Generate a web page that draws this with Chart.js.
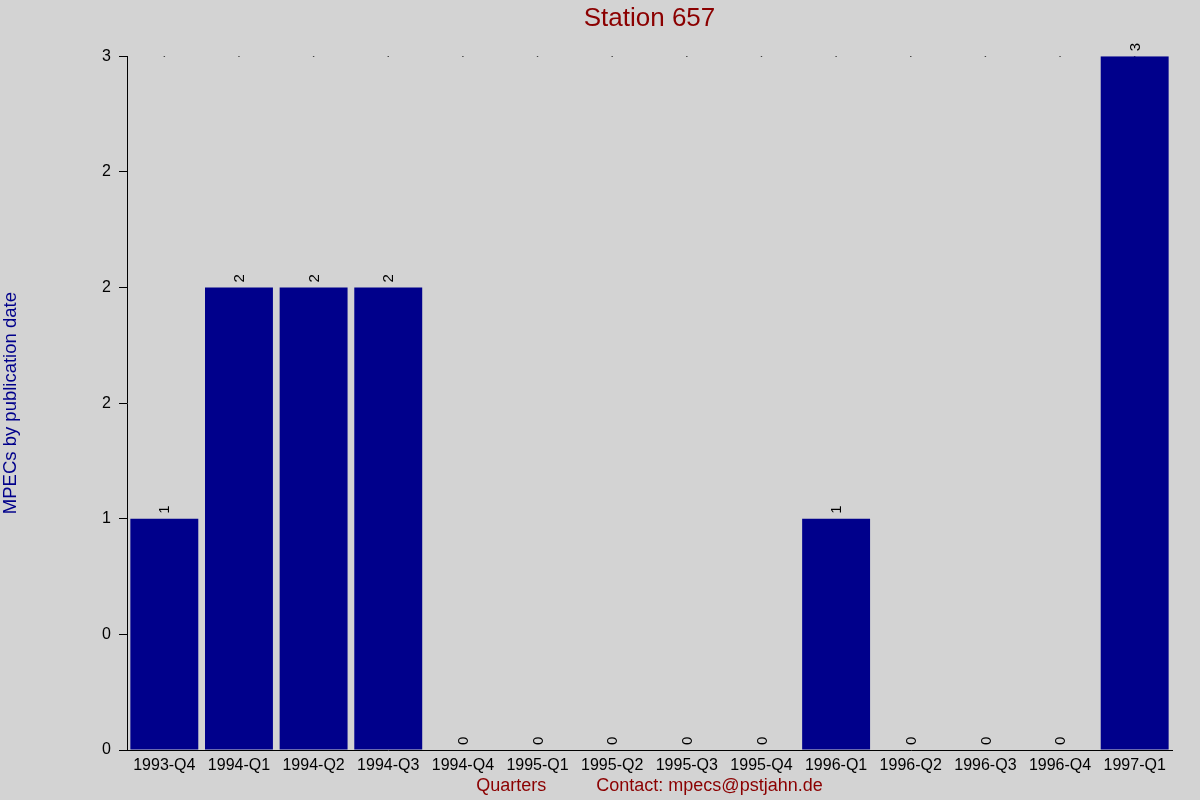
<!DOCTYPE html>
<html>
<head>
<meta charset="utf-8">
<script src="https://cdn.jsdelivr.net/npm/chart.js@4/dist/chart.umd.min.js"></script>
<style>
html,body{margin:0;padding:0;background:#d3d3d3;}
#wrap{width:1200px;height:800px;}
</style>
</head>
<body>
<div id="wrap"><canvas id="graph" width="1200" height="800"></canvas></div>
<script>

// quarters and MPEC counts
let quarters=["1993-Q4","1994-Q1","1994-Q2","1994-Q3","1994-Q4","1995-Q1","1995-Q2","1995-Q3","1995-Q4","1996-Q1","1996-Q2","1996-Q3","1996-Q4","1997-Q1"];
let mpecs=[1,2,2,2,0,0,0,0,0,1,0,0,0,3];
let topDots=[3,3,3,3,3,3,3,3,3,3,3,3,3,3];
let yTickLabels=["0","0","1","2","2","2","3"];

let bg={
id:"bg",
beforeDraw(c){
let ctx=c.ctx;
ctx.save();
ctx.fillStyle="#d3d3d3";
ctx.fillRect(0,0,c.width,c.height);
ctx.restore();
}
};

// rotated value labels above each bar
let valueLabels={
id:"valueLabels",
afterDatasetsDraw(c){
let ctx=c.ctx;
let meta=c.getDatasetMeta(1);
ctx.save();
ctx.font="15px 'Liberation Sans', Arial, sans-serif";
ctx.fillStyle="#000000";
ctx.textAlign="left";
ctx.textBaseline="middle";
meta.data.forEach((bar,i)=>{
ctx.save();
ctx.translate(bar.x+1,bar.y-5);
ctx.rotate(-Math.PI/2);
ctx.fillText(String(mpecs[i]),0,0);
ctx.restore();
});
ctx.restore();
}
};

let font="'Liberation Sans', Arial, sans-serif";

new Chart(document.getElementById("graph"),{
type:"bar",
data:{
labels:quarters,
datasets:[
{
type:"line",
data:topDots,
showLine:false,
pointRadius:0.8,
pointBorderWidth:0,
pointBackgroundColor:"#000000",
order:2
},
{
data:mpecs,
backgroundColor:"#00008b",
barPercentage:0.91,
categoryPercentage:1,
order:1
}
]
},
options:{
responsive:false,
animation:false,
layout:{padding:{left:0,right:28,top:0,bottom:0}},
plugins:{
legend:{display:false},
tooltip:{enabled:false},
title:{
display:true,
fullSize:false,
text:"Station 657",
color:"#8b0000",
font:{family:font,size:26,weight:"normal"},
padding:{top:3,bottom:22}
}
},
scales:{
x:{
grid:{display:false,drawTicks:false},
border:{display:true,color:"#000000",width:1},
ticks:{color:"#000000",font:{family:font,size:16},padding:6,maxRotation:0,autoSkip:false},
title:{
display:true,
text:"Quarters          Contact: mpecs@pstjahn.de",
color:"#8b0000",
font:{family:font,size:18},
padding:{top:0,bottom:3}
},
afterFit(s){s.height=50;}
},
y:{
min:0,
max:3,
grid:{display:true,drawOnChartArea:false,drawTicks:true,tickLength:8,color:"#000000"},
border:{display:true,color:"#000000",width:1},
ticks:{
stepSize:0.5,
color:"#000000",
font:{family:font,size:16},
padding:8,
callback:(v,i)=>yTickLabels[i]
},
title:{
display:true,
text:"MPECs by publication date",
color:"#00008b",
font:{family:font,size:18.5},
padding:{top:0,bottom:0}
},
afterFit(s){s.width=127;}
}
}
},
plugins:[bg,valueLabels]
});

</script>
</body>
</html>
